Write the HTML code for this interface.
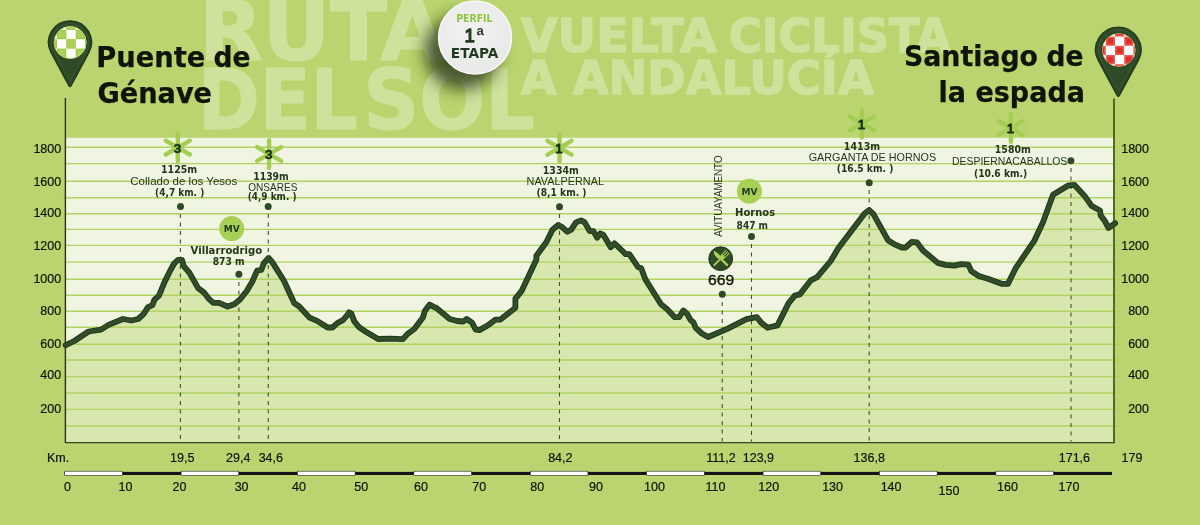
<!DOCTYPE html>
<html lang="es"><head><meta charset="utf-8"><title>Perfil 1ª Etapa - Vuelta Ciclista a Andalucía</title>
<style>
html,body{margin:0;padding:0;background:#bad56f;}
body{width:1200px;height:525px;overflow:hidden;font-family:"Liberation Sans",sans-serif;}
svg{display:block;}
svg text{font-family:"Liberation Sans",sans-serif;}
.b{font-weight:bold;}
svg text.djt{font-family:"DejaVu Sans","Liberation Sans",sans-serif;}
svg .dj text{font-family:"DejaVu Sans","Liberation Sans",sans-serif;}
.m{text-anchor:middle;}
.e{text-anchor:end;}
.ax{font-size:12.5px;fill:#10140a;stroke:#10140a;stroke-width:0.2px;}
.lb{fill:#24361c;}
</style></head><body>
<svg width="1200" height="525" viewBox="0 0 1200 525">
<defs>
<clipPath id="cL"><circle cx="70.2" cy="42.5" r="16"/></clipPath>
<clipPath id="cR"><circle cx="1118.8" cy="50" r="16.3"/></clipPath>
<filter id="sh" x="-60%" y="-40%" width="200%" height="200%"><feGaussianBlur stdDeviation="7.8"/></filter>
<radialGradient id="bg1" cx="0.45" cy="0.4" r="0.7"><stop offset="0" stop-color="#f1f1f1"/><stop offset="1" stop-color="#e6e8e6"/></radialGradient>
</defs>
<rect width="1200" height="525" fill="#bad56f"/>
<g fill="#cfe29c" stroke="#cfe29c" stroke-width="1.2" class="b dj">
<text x="199" y="60.2" font-size="83" textLength="245.5" lengthAdjust="spacingAndGlyphs">RUTA</text>
<text x="198" y="129.2" font-size="83" textLength="160" lengthAdjust="spacingAndGlyphs">DEL</text>
<text x="363.3" y="129.2" font-size="83" textLength="171.5" lengthAdjust="spacingAndGlyphs">SOL</text>
</g>
<g fill="#cfe29c" stroke="#cfe29c" stroke-width="1.3" class="b dj">
<text x="520.8" y="51.6" font-size="46" textLength="196" lengthAdjust="spacingAndGlyphs">VUELTA</text>
<text x="728.8" y="51.6" font-size="46" textLength="222" lengthAdjust="spacingAndGlyphs">CICLISTA</text>
<text x="520.8" y="94.2" font-size="46" textLength="353" lengthAdjust="spacingAndGlyphs">A ANDALUCÍA</text>
</g>
<rect x="65.4" y="137.8" width="1048.4" height="304.8" fill="#eff5e1"/>
<path d="M65.4,442.6 L65.7,345.2 L74.3,341.0 L88.6,331.5 L101.0,329.6 L108.6,324.9 L122.9,319.0 L131.4,320.5 L138.1,319.0 L143.8,313.8 L148.0,307.1 L152.4,305.2 L154.3,299.9 L159.0,295.7 L164.4,282.4 L170.5,270.0 L174.3,263.3 L178.1,259.9 L181.9,259.9 L183.8,266.2 L189.5,272.9 L194.3,281.4 L198.1,288.1 L203.8,292.3 L208.6,298.6 L213.3,302.8 L219.0,302.8 L227.6,306.6 L234.3,304.3 L240.0,299.5 L246.7,291.0 L252.4,281.4 L257.1,270.6 L261.3,270.0 L263.8,263.3 L268.6,258.0 L272.4,262.4 L283.8,280.5 L294.3,303.3 L299.0,306.2 L309.5,317.6 L317.1,320.9 L327.6,327.5 L332.4,327.5 L337.1,323.3 L342.9,320.1 L347.6,314.8 L349.0,312.3 L351.4,313.8 L354.3,321.4 L359.0,327.1 L366.7,332.3 L378.1,339.0 L390.5,338.6 L402.9,339.1 L407.6,333.8 L414.3,329.0 L422.9,317.6 L424.8,311.0 L429.5,304.7 L434.3,307.1 L436.1,307.8 L449.7,319.0 L457.2,321.0 L463.3,321.5 L466.6,319.0 L472.0,322.7 L475.7,329.6 L479.4,330.1 L488.1,325.2 L495.5,319.7 L500.5,319.5 L515.4,307.8 L515.4,298.7 L521.5,291.2 L536.4,259.5 L536.4,255.8 L546.3,242.2 L552.5,229.8 L558.2,224.9 L562.4,227.3 L567.4,231.8 L571.1,229.8 L576.0,222.4 L581.0,220.4 L584.7,222.4 L589.7,231.1 L593.4,231.1 L597.1,237.7 L600.3,233.5 L603.3,234.8 L610.7,247.2 L614.4,243.4 L618.1,246.7 L625.6,254.1 L629.3,254.1 L638.0,267.0 L641.2,268.2 L645.4,279.4 L651.6,289.3 L661.0,304.3 L667.2,309.3 L674.7,317.2 L679.1,317.2 L683.3,310.5 L687.0,313.7 L690.8,320.4 L693.3,322.1 L695.7,327.8 L701.9,333.5 L708.1,337.0 L726.7,329.1 L746.5,319.2 L756.9,317.2 L761.4,322.9 L767.6,327.8 L777.5,325.4 L788.6,303.1 L794.8,295.6 L799.8,294.4 L810.9,280.3 L817.1,277.1 L830.7,261.0 L838.1,248.6 L864.8,213.3 L869.2,210.1 L873.4,214.1 L888.3,240.6 L894.5,244.3 L901.9,247.5 L905.6,247.5 L911.8,241.8 L916.8,242.3 L923.0,250.5 L937.8,262.9 L945.3,264.9 L953.9,265.6 L961.4,264.1 L968.3,264.6 L971.3,271.1 L978.7,276.0 L988.6,279.0 L1002.2,283.9 L1007.9,283.9 L1015.9,267.8 L1034.4,240.6 L1043.1,222.0 L1053.0,194.8 L1068.6,185.3 L1074.3,184.8 L1084.8,196.2 L1091.4,205.7 L1100.0,210.5 L1100.6,215.2 L1104.8,221.0 L1108.6,228.0 L1115.2,223.2 L1113.8,442.6 Z" fill="#d7e7ad"/>
<path d="M65.4,147.20H1119.6M65.4,163.60H1119.6M65.4,181.20H1119.6M60.9,197.80H1119.6M65.4,213.80H1119.6M65.4,229.40H1119.6M65.4,245.40H1119.6M65.4,262.10H1119.6M65.4,279.30H1119.6M65.4,295.30H1119.6M65.4,311.30H1119.6M65.4,327.30H1119.6M65.4,344.30H1119.6M65.4,360.00H1119.6M65.4,376.60H1119.6M65.4,393.00H1119.6M65.4,409.40H1119.6M65.4,426.00H1119.6" stroke="#b0d361" stroke-width="1.4" fill="none"/>
<path d="M65.4,442.6H1114.6" stroke="#38431f" stroke-width="1.2"/>
<path d="M65.4,98V443.1" stroke="#2a3316" stroke-width="1.4"/>
<path d="M1114.0,98.5V443.2" stroke="#4f621b" stroke-width="1.9"/>
<path d="M180.4,214.0V441.6" stroke="#3f5135" stroke-width="1.1" stroke-dasharray="4 4.5" fill="none"/>
<path d="M238.9,282.0V441.6" stroke="#3f5135" stroke-width="1.1" stroke-dasharray="4 4.5" fill="none"/>
<path d="M268.3,214.0V441.6" stroke="#3f5135" stroke-width="1.1" stroke-dasharray="4 4.5" fill="none"/>
<path d="M559.5,214.0V441.6" stroke="#3f5135" stroke-width="1.1" stroke-dasharray="4 4.5" fill="none"/>
<path d="M722.2,302.0V441.6" stroke="#3f5135" stroke-width="1.1" stroke-dasharray="4 4.5" fill="none"/>
<path d="M751.5,244.0V441.6" stroke="#3f5135" stroke-width="1.1" stroke-dasharray="4 4.5" fill="none"/>
<path d="M869.2,190.0V441.6" stroke="#3f5135" stroke-width="1.1" stroke-dasharray="4 4.5" fill="none"/>
<path d="M1071.0,168.0V441.6" stroke="#3f5135" stroke-width="1.1" stroke-dasharray="4 4.5" fill="none"/>
<path id="prof" d="M65.7,345.2 L74.3,341.0 L88.6,331.5 L101.0,329.6 L108.6,324.9 L122.9,319.0 L131.4,320.5 L138.1,319.0 L143.8,313.8 L148.0,307.1 L152.4,305.2 L154.3,299.9 L159.0,295.7 L164.4,282.4 L170.5,270.0 L174.3,263.3 L178.1,259.9 L181.9,259.9 L183.8,266.2 L189.5,272.9 L194.3,281.4 L198.1,288.1 L203.8,292.3 L208.6,298.6 L213.3,302.8 L219.0,302.8 L227.6,306.6 L234.3,304.3 L240.0,299.5 L246.7,291.0 L252.4,281.4 L257.1,270.6 L261.3,270.0 L263.8,263.3 L268.6,258.0 L272.4,262.4 L283.8,280.5 L294.3,303.3 L299.0,306.2 L309.5,317.6 L317.1,320.9 L327.6,327.5 L332.4,327.5 L337.1,323.3 L342.9,320.1 L347.6,314.8 L349.0,312.3 L351.4,313.8 L354.3,321.4 L359.0,327.1 L366.7,332.3 L378.1,339.0 L390.5,338.6 L402.9,339.1 L407.6,333.8 L414.3,329.0 L422.9,317.6 L424.8,311.0 L429.5,304.7 L434.3,307.1 L436.1,307.8 L449.7,319.0 L457.2,321.0 L463.3,321.5 L466.6,319.0 L472.0,322.7 L475.7,329.6 L479.4,330.1 L488.1,325.2 L495.5,319.7 L500.5,319.5 L515.4,307.8 L515.4,298.7 L521.5,291.2 L536.4,259.5 L536.4,255.8 L546.3,242.2 L552.5,229.8 L558.2,224.9 L562.4,227.3 L567.4,231.8 L571.1,229.8 L576.0,222.4 L581.0,220.4 L584.7,222.4 L589.7,231.1 L593.4,231.1 L597.1,237.7 L600.3,233.5 L603.3,234.8 L610.7,247.2 L614.4,243.4 L618.1,246.7 L625.6,254.1 L629.3,254.1 L638.0,267.0 L641.2,268.2 L645.4,279.4 L651.6,289.3 L661.0,304.3 L667.2,309.3 L674.7,317.2 L679.1,317.2 L683.3,310.5 L687.0,313.7 L690.8,320.4 L693.3,322.1 L695.7,327.8 L701.9,333.5 L708.1,337.0 L726.7,329.1 L746.5,319.2 L756.9,317.2 L761.4,322.9 L767.6,327.8 L777.5,325.4 L788.6,303.1 L794.8,295.6 L799.8,294.4 L810.9,280.3 L817.1,277.1 L830.7,261.0 L838.1,248.6 L864.8,213.3 L869.2,210.1 L873.4,214.1 L888.3,240.6 L894.5,244.3 L901.9,247.5 L905.6,247.5 L911.8,241.8 L916.8,242.3 L923.0,250.5 L937.8,262.9 L945.3,264.9 L953.9,265.6 L961.4,264.1 L968.3,264.6 L971.3,271.1 L978.7,276.0 L988.6,279.0 L1002.2,283.9 L1007.9,283.9 L1015.9,267.8 L1034.4,240.6 L1043.1,222.0 L1053.0,194.8 L1068.6,185.3 L1074.3,184.8 L1084.8,196.2 L1091.4,205.7 L1100.0,210.5 L1100.6,215.2 L1104.8,221.0 L1108.6,228.0 L1115.2,223.2" fill="none" stroke="#213a1c" stroke-width="5.8" stroke-linejoin="round" stroke-linecap="round"/>
<path d="M65.7,345.2 L74.3,341.0 L88.6,331.5 L101.0,329.6 L108.6,324.9 L122.9,319.0 L131.4,320.5 L138.1,319.0 L143.8,313.8 L148.0,307.1 L152.4,305.2 L154.3,299.9 L159.0,295.7 L164.4,282.4 L170.5,270.0 L174.3,263.3 L178.1,259.9 L181.9,259.9 L183.8,266.2 L189.5,272.9 L194.3,281.4 L198.1,288.1 L203.8,292.3 L208.6,298.6 L213.3,302.8 L219.0,302.8 L227.6,306.6 L234.3,304.3 L240.0,299.5 L246.7,291.0 L252.4,281.4 L257.1,270.6 L261.3,270.0 L263.8,263.3 L268.6,258.0 L272.4,262.4 L283.8,280.5 L294.3,303.3 L299.0,306.2 L309.5,317.6 L317.1,320.9 L327.6,327.5 L332.4,327.5 L337.1,323.3 L342.9,320.1 L347.6,314.8 L349.0,312.3 L351.4,313.8 L354.3,321.4 L359.0,327.1 L366.7,332.3 L378.1,339.0 L390.5,338.6 L402.9,339.1 L407.6,333.8 L414.3,329.0 L422.9,317.6 L424.8,311.0 L429.5,304.7 L434.3,307.1 L436.1,307.8 L449.7,319.0 L457.2,321.0 L463.3,321.5 L466.6,319.0 L472.0,322.7 L475.7,329.6 L479.4,330.1 L488.1,325.2 L495.5,319.7 L500.5,319.5 L515.4,307.8 L515.4,298.7 L521.5,291.2 L536.4,259.5 L536.4,255.8 L546.3,242.2 L552.5,229.8 L558.2,224.9 L562.4,227.3 L567.4,231.8 L571.1,229.8 L576.0,222.4 L581.0,220.4 L584.7,222.4 L589.7,231.1 L593.4,231.1 L597.1,237.7 L600.3,233.5 L603.3,234.8 L610.7,247.2 L614.4,243.4 L618.1,246.7 L625.6,254.1 L629.3,254.1 L638.0,267.0 L641.2,268.2 L645.4,279.4 L651.6,289.3 L661.0,304.3 L667.2,309.3 L674.7,317.2 L679.1,317.2 L683.3,310.5 L687.0,313.7 L690.8,320.4 L693.3,322.1 L695.7,327.8 L701.9,333.5 L708.1,337.0 L726.7,329.1 L746.5,319.2 L756.9,317.2 L761.4,322.9 L767.6,327.8 L777.5,325.4 L788.6,303.1 L794.8,295.6 L799.8,294.4 L810.9,280.3 L817.1,277.1 L830.7,261.0 L838.1,248.6 L864.8,213.3 L869.2,210.1 L873.4,214.1 L888.3,240.6 L894.5,244.3 L901.9,247.5 L905.6,247.5 L911.8,241.8 L916.8,242.3 L923.0,250.5 L937.8,262.9 L945.3,264.9 L953.9,265.6 L961.4,264.1 L968.3,264.6 L971.3,271.1 L978.7,276.0 L988.6,279.0 L1002.2,283.9 L1007.9,283.9 L1015.9,267.8 L1034.4,240.6 L1043.1,222.0 L1053.0,194.8 L1068.6,185.3 L1074.3,184.8 L1084.8,196.2 L1091.4,205.7 L1100.0,210.5 L1100.6,215.2 L1104.8,221.0 L1108.6,228.0 L1115.2,223.2" fill="none" stroke="#314d2a" stroke-width="3.6" stroke-linejoin="round" stroke-linecap="round"/>
<circle cx="180.5" cy="206.6" r="3.5" fill="#2f4a27"/>
<circle cx="268.2" cy="206.6" r="3.5" fill="#2f4a27"/>
<circle cx="238.9" cy="274.3" r="3.5" fill="#2f4a27"/>
<circle cx="559.5" cy="206.7" r="3.5" fill="#2f4a27"/>
<circle cx="722.3" cy="294.2" r="3.5" fill="#2f4a27"/>
<circle cx="751.5" cy="236.4" r="3.5" fill="#2f4a27"/>
<circle cx="869.2" cy="182.7" r="3.5" fill="#2f4a27"/>
<circle cx="1070.9" cy="160.8" r="3.5" fill="#2f4a27"/>
<path d="M177.8,133.8V161.4 M165.8,140.7L189.8,154.5 M165.8,154.5L189.8,140.7" stroke="#a4ce53" stroke-width="4.4" stroke-linecap="round" fill="none"/>
<text x="177.6" y="152.5" class="b m" font-size="13.6" fill="#17301b" stroke="#17301b" stroke-width="0.45">3</text>
<path d="M269.1,140.2V167.8 M257.1,147.1L281.1,160.9 M257.1,160.9L281.1,147.1" stroke="#a4ce53" stroke-width="4.4" stroke-linecap="round" fill="none"/>
<text x="268.9" y="158.9" class="b m" font-size="13.6" fill="#17301b" stroke="#17301b" stroke-width="0.45">3</text>
<path d="M559.5,133.9V161.5 M547.5,140.8L571.5,154.6 M547.5,154.6L571.5,140.8" stroke="#a4ce53" stroke-width="4.4" stroke-linecap="round" fill="none"/>
<text x="559.0" y="153.1" class="m" font-size="13.4" fill="#17301b" stroke="#17301b" stroke-width="1.05" stroke-linejoin="round">1</text>
<path d="M861.9,109.7V137.3 M849.9,116.6L873.9,130.4 M849.9,130.4L873.9,116.6" stroke="#a4ce53" stroke-width="4.4" stroke-linecap="round" fill="none"/>
<text x="861.4" y="128.9" class="m" font-size="13.4" fill="#17301b" stroke="#17301b" stroke-width="1.05" stroke-linejoin="round">1</text>
<path d="M1010.9,114.2V141.8 M998.9,121.1L1022.9,134.9 M998.9,134.9L1022.9,121.1" stroke="#a4ce53" stroke-width="4.4" stroke-linecap="round" fill="none"/>
<text x="1010.4" y="133.4" class="m" font-size="13.4" fill="#17301b" stroke="#17301b" stroke-width="1.05" stroke-linejoin="round">1</text>
<text x="179.1" y="172.8" class="lb b djt m" font-size="9.9" textLength="36.3" lengthAdjust="spacingAndGlyphs">1125m</text>
<text x="183.8" y="184.5" class="lb m" font-size="11" textLength="107.0" lengthAdjust="spacingAndGlyphs">Collado de los Yesos</text>
<text x="179.7" y="196.0" class="lb b djt m" font-size="9.9" textLength="49.2" lengthAdjust="spacingAndGlyphs">(4,7 km. )</text>
<text x="271.0" y="179.7" class="lb b djt m" font-size="9.9" textLength="35.5" lengthAdjust="spacingAndGlyphs">1139m</text>
<text x="272.8" y="191.4" class="lb m" font-size="11" textLength="49.2" lengthAdjust="spacingAndGlyphs">ONSARES</text>
<text x="272.1" y="199.9" class="lb b djt m" font-size="9.9" textLength="48.8" lengthAdjust="spacingAndGlyphs">(4,9 km. )</text>
<text x="226.4" y="253.7" class="lb b djt m" font-size="10.4" textLength="71.6" lengthAdjust="spacingAndGlyphs">Villarrodrigo</text>
<text x="228.6" y="264.7" class="lb b djt m" font-size="9.9" textLength="31.9" lengthAdjust="spacingAndGlyphs">873 m</text>
<text x="560.8" y="173.5" class="lb b djt m" font-size="9.9" textLength="36.0" lengthAdjust="spacingAndGlyphs">1334m</text>
<text x="565.3" y="185.0" class="lb m" font-size="11" textLength="77.4" lengthAdjust="spacingAndGlyphs">NAVALPERNAL</text>
<text x="561.5" y="195.6" class="lb b djt m" font-size="9.9" textLength="50.0" lengthAdjust="spacingAndGlyphs">(8,1 km. )</text>
<circle cx="231.7" cy="228.6" r="12.5" fill="#a8cf56"/>
<text x="231.7" y="231.9" class="b m djt" font-size="9" fill="#1f3a1e" textLength="16" lengthAdjust="spacingAndGlyphs">MV</text>
<circle cx="749.4" cy="191.2" r="12.5" fill="#a8cf56"/>
<text x="749.4" y="194.5" class="b m djt" font-size="9" fill="#1f3a1e" textLength="16" lengthAdjust="spacingAndGlyphs">MV</text>
<text x="755.1" y="216.4" class="lb b djt m" font-size="10.4" textLength="40.0" lengthAdjust="spacingAndGlyphs">Hornos</text>
<text x="752.3" y="228.7" class="lb b djt m" font-size="9.9" textLength="31.4" lengthAdjust="spacingAndGlyphs">847 m</text>
<text transform="translate(722,236.7) rotate(-90)" class="lb" font-size="10" textLength="81.2" lengthAdjust="spacingAndGlyphs">AVITUAYAMENTO</text>
<circle cx="720.7" cy="258.7" r="11.9" fill="#2f4a27" stroke="#22381b" stroke-width="1"/>
<g fill="#a8cf56" transform="translate(720.7,258.7) scale(1.2)">
<g transform="rotate(-45)"><path d="M-0.9,8.2V0C-2.3,-3 -1.9,-7 0.8,-8.7C1.8,-6 1.9,-2 1.0,0.6V8.2Z"/></g>
<g transform="rotate(45)"><path d="M-0.8,8.2V-0.6C-1.9,-1.2 -2.2,-2 -2.2,-3V-8.4H-1.4V-3.4H-0.45V-8.4H0.45V-3.4H1.4V-8.4H2.2V-3C2.2,-2 1.9,-1.2 0.8,-0.6V8.2Z"/></g>
</g>
<text x="721.2" y="285" class="m" font-size="14.9" fill="#10140a" stroke="#10140a" stroke-width="0.3" textLength="26.3" lengthAdjust="spacingAndGlyphs">669</text>
<text x="862.0" y="149.9" class="lb b djt m" font-size="9.9" textLength="36.3" lengthAdjust="spacingAndGlyphs">1413m</text>
<text x="872.4" y="160.8" class="lb m" font-size="11" textLength="127.4" lengthAdjust="spacingAndGlyphs">GARGANTA DE HORNOS</text>
<text x="865.1" y="172.0" class="lb b djt m" font-size="9.9" textLength="56.8" lengthAdjust="spacingAndGlyphs">(16.5 km. )</text>
<text x="1012.8" y="153.3" class="lb b djt m" font-size="9.9" textLength="36.0" lengthAdjust="spacingAndGlyphs">1580m</text>
<text x="1009.7" y="164.8" class="lb m" font-size="11" textLength="115.2" lengthAdjust="spacingAndGlyphs">DESPIERNACABALLOS</text>
<text x="1000.6" y="176.5" class="lb b djt m" font-size="9.9" textLength="53.3" lengthAdjust="spacingAndGlyphs">(10.6 km.)</text>
<text x="61.2" y="153.0" class="ax e">1800</text>
<text x="1149" y="153.0" class="ax e">1800</text>
<text x="61.2" y="186.2" class="ax e">1600</text>
<text x="1149" y="186.2" class="ax e">1600</text>
<text x="61.2" y="216.9" class="ax e">1400</text>
<text x="1149" y="216.9" class="ax e">1400</text>
<text x="61.2" y="249.5" class="ax e">1200</text>
<text x="1149" y="249.5" class="ax e">1200</text>
<text x="61.2" y="283.4" class="ax e">1000</text>
<text x="1149" y="283.4" class="ax e">1000</text>
<text x="61.2" y="315.3" class="ax e">800</text>
<text x="1149" y="315.3" class="ax e">800</text>
<text x="61.2" y="348.2" class="ax e">600</text>
<text x="1149" y="348.2" class="ax e">600</text>
<text x="61.2" y="379.3" class="ax e">400</text>
<text x="1149" y="379.3" class="ax e">400</text>
<text x="61.2" y="412.5" class="ax e">200</text>
<text x="1149" y="412.5" class="ax e">200</text>
<text x="47" y="461.6" class="ax">Km.</text>
<text x="182.2" y="461.6" class="ax m">19,5</text>
<text x="238.2" y="461.6" class="ax m">29,4</text>
<text x="270.8" y="461.6" class="ax m">34,6</text>
<text x="560.3" y="461.6" class="ax m">84,2</text>
<text x="720.9" y="461.6" class="ax m">111,2</text>
<text x="758.4" y="461.6" class="ax m">123,9</text>
<text x="869.2" y="461.6" class="ax m">136,8</text>
<text x="1074.4" y="461.6" class="ax m">171,6</text>
<text x="1121.5" y="461.6" class="ax">179</text>
<rect x="64.4" y="471.9" width="1047.6" height="3.1" fill="#141414"/>
<rect x="64.7" y="471.2" width="57.6" height="4.2" fill="#ffffff" stroke="#2a2a2a" stroke-width="0.6"/>
<rect x="181.1" y="471.2" width="57.6" height="4.2" fill="#ffffff" stroke="#2a2a2a" stroke-width="0.6"/>
<rect x="297.5" y="471.2" width="57.6" height="4.2" fill="#ffffff" stroke="#2a2a2a" stroke-width="0.6"/>
<rect x="413.9" y="471.2" width="57.6" height="4.2" fill="#ffffff" stroke="#2a2a2a" stroke-width="0.6"/>
<rect x="530.3" y="471.2" width="57.6" height="4.2" fill="#ffffff" stroke="#2a2a2a" stroke-width="0.6"/>
<rect x="646.7" y="471.2" width="57.6" height="4.2" fill="#ffffff" stroke="#2a2a2a" stroke-width="0.6"/>
<rect x="763.1" y="471.2" width="57.6" height="4.2" fill="#ffffff" stroke="#2a2a2a" stroke-width="0.6"/>
<rect x="879.5" y="471.2" width="57.6" height="4.2" fill="#ffffff" stroke="#2a2a2a" stroke-width="0.6"/>
<rect x="995.9" y="471.2" width="57.6" height="4.2" fill="#ffffff" stroke="#2a2a2a" stroke-width="0.6"/>
<text x="67.5" y="490.6" class="ax m">0</text>
<text x="125.4" y="490.6" class="ax m">10</text>
<text x="179.4" y="490.6" class="ax m">20</text>
<text x="241.6" y="490.6" class="ax m">30</text>
<text x="299.0" y="490.6" class="ax m">40</text>
<text x="361.2" y="490.6" class="ax m">50</text>
<text x="421.0" y="490.6" class="ax m">60</text>
<text x="479.3" y="490.6" class="ax m">70</text>
<text x="537.2" y="490.6" class="ax m">80</text>
<text x="596.0" y="490.6" class="ax m">90</text>
<text x="654.5" y="490.6" class="ax m">100</text>
<text x="715.5" y="490.6" class="ax m">110</text>
<text x="768.7" y="490.6" class="ax m">120</text>
<text x="832.6" y="490.6" class="ax m">130</text>
<text x="891.1" y="490.6" class="ax m">140</text>
<text x="949.0" y="495.0" class="ax m">150</text>
<text x="1007.5" y="490.6" class="ax m">160</text>
<text x="1069.0" y="490.6" class="ax m">170</text>
<path d="M51.08,52.81 A21.60,21.60 0 1 1 88.92,52.81 L71.20,85.58 Q70.00,87.60 68.80,85.58 Z" fill="#2c4725" stroke="#20361a" stroke-width="1.2"/>
<path d="M53.64,51.46 A18.70,18.70 0 1 1 86.36,51.46 L70.80,79.92 Q70.00,81.40 69.20,79.92 Z" fill="#2f4a27" stroke="#42613a" stroke-width="0.7"/>
<path d="M1098.34,60.81 A22.80,22.80 0 1 1 1138.26,60.81 L1119.50,95.38 Q1118.30,97.40 1117.10,95.38 Z" fill="#2c4725" stroke="#20361a" stroke-width="1.2"/>
<path d="M1100.90,59.46 A19.90,19.90 0 1 1 1135.70,59.46 L1119.10,89.72 Q1118.30,91.20 1117.50,89.72 Z" fill="#2f4a27" stroke="#42613a" stroke-width="0.7"/>
<circle cx="70.2" cy="42.5" r="16.0" fill="#ffffff" stroke="#cfe6a0" stroke-width="1"/>
<g clip-path="url(#cL)">
<rect x="47.50" y="20.40" width="9.40" height="9.40" fill="#9ac52e"/>
<rect x="48.40" y="21.30" width="7.60" height="7.60" fill="#acd060"/>
<rect x="47.50" y="39.20" width="9.40" height="9.40" fill="#9ac52e"/>
<rect x="48.40" y="40.10" width="7.60" height="7.60" fill="#acd060"/>
<rect x="47.50" y="58.00" width="9.40" height="9.40" fill="#9ac52e"/>
<rect x="48.40" y="58.90" width="7.60" height="7.60" fill="#acd060"/>
<rect x="56.90" y="29.80" width="9.40" height="9.40" fill="#9ac52e"/>
<rect x="57.80" y="30.70" width="7.60" height="7.60" fill="#acd060"/>
<rect x="56.90" y="48.60" width="9.40" height="9.40" fill="#9ac52e"/>
<rect x="57.80" y="49.50" width="7.60" height="7.60" fill="#acd060"/>
<rect x="66.30" y="20.40" width="9.40" height="9.40" fill="#9ac52e"/>
<rect x="67.20" y="21.30" width="7.60" height="7.60" fill="#acd060"/>
<rect x="66.30" y="39.20" width="9.40" height="9.40" fill="#9ac52e"/>
<rect x="67.20" y="40.10" width="7.60" height="7.60" fill="#acd060"/>
<rect x="66.30" y="58.00" width="9.40" height="9.40" fill="#9ac52e"/>
<rect x="67.20" y="58.90" width="7.60" height="7.60" fill="#acd060"/>
<rect x="75.70" y="29.80" width="9.40" height="9.40" fill="#9ac52e"/>
<rect x="76.60" y="30.70" width="7.60" height="7.60" fill="#acd060"/>
<rect x="75.70" y="48.60" width="9.40" height="9.40" fill="#9ac52e"/>
<rect x="76.60" y="49.50" width="7.60" height="7.60" fill="#acd060"/>
<rect x="85.10" y="20.40" width="9.40" height="9.40" fill="#9ac52e"/>
<rect x="86.00" y="21.30" width="7.60" height="7.60" fill="#acd060"/>
<rect x="85.10" y="39.20" width="9.40" height="9.40" fill="#9ac52e"/>
<rect x="86.00" y="40.10" width="7.60" height="7.60" fill="#acd060"/>
<rect x="85.10" y="58.00" width="9.40" height="9.40" fill="#9ac52e"/>
<rect x="86.00" y="58.90" width="7.60" height="7.60" fill="#acd060"/>
</g>
<circle cx="1118.8" cy="50.0" r="16.3" fill="#ffffff" stroke="#cfe6a0" stroke-width="1"/>
<g clip-path="url(#cR)">
<rect x="1096.60" y="27.40" width="9.20" height="9.20" fill="#ee5a55"/>
<rect x="1098.20" y="29.00" width="6.00" height="6.00" fill="#dd2f2c"/>
<rect x="1096.60" y="45.80" width="9.20" height="9.20" fill="#ee5a55"/>
<rect x="1098.20" y="47.40" width="6.00" height="6.00" fill="#dd2f2c"/>
<rect x="1096.60" y="64.20" width="9.20" height="9.20" fill="#ee5a55"/>
<rect x="1098.20" y="65.80" width="6.00" height="6.00" fill="#dd2f2c"/>
<rect x="1105.80" y="36.60" width="9.20" height="9.20" fill="#ee5a55"/>
<rect x="1107.40" y="38.20" width="6.00" height="6.00" fill="#dd2f2c"/>
<rect x="1105.80" y="55.00" width="9.20" height="9.20" fill="#ee5a55"/>
<rect x="1107.40" y="56.60" width="6.00" height="6.00" fill="#dd2f2c"/>
<rect x="1115.00" y="27.40" width="9.20" height="9.20" fill="#ee5a55"/>
<rect x="1116.60" y="29.00" width="6.00" height="6.00" fill="#dd2f2c"/>
<rect x="1115.00" y="45.80" width="9.20" height="9.20" fill="#ee5a55"/>
<rect x="1116.60" y="47.40" width="6.00" height="6.00" fill="#dd2f2c"/>
<rect x="1115.00" y="64.20" width="9.20" height="9.20" fill="#ee5a55"/>
<rect x="1116.60" y="65.80" width="6.00" height="6.00" fill="#dd2f2c"/>
<rect x="1124.20" y="36.60" width="9.20" height="9.20" fill="#ee5a55"/>
<rect x="1125.80" y="38.20" width="6.00" height="6.00" fill="#dd2f2c"/>
<rect x="1124.20" y="55.00" width="9.20" height="9.20" fill="#ee5a55"/>
<rect x="1125.80" y="56.60" width="6.00" height="6.00" fill="#dd2f2c"/>
<rect x="1133.40" y="27.40" width="9.20" height="9.20" fill="#ee5a55"/>
<rect x="1135.00" y="29.00" width="6.00" height="6.00" fill="#dd2f2c"/>
<rect x="1133.40" y="45.80" width="9.20" height="9.20" fill="#ee5a55"/>
<rect x="1135.00" y="47.40" width="6.00" height="6.00" fill="#dd2f2c"/>
<rect x="1133.40" y="64.20" width="9.20" height="9.20" fill="#ee5a55"/>
<rect x="1135.00" y="65.80" width="6.00" height="6.00" fill="#dd2f2c"/>
</g>
<g fill="#10140a" stroke="#10140a" stroke-width="0.25" class="b dj">
<text x="96.3" y="67.1" font-size="27.8" textLength="109" lengthAdjust="spacingAndGlyphs">Puente</text>
<text x="213.4" y="67.1" font-size="27.8" textLength="37" lengthAdjust="spacingAndGlyphs">de</text>
<text x="97.5" y="102.6" font-size="27.8" textLength="114.5" lengthAdjust="spacingAndGlyphs">Génave</text>
<text x="904" y="66.4" font-size="27.8" textLength="134" lengthAdjust="spacingAndGlyphs">Santiago</text>
<text x="1046.4" y="66.4" font-size="27.8" textLength="37" lengthAdjust="spacingAndGlyphs">de</text>
<text x="938.5" y="102" font-size="27.8" textLength="146.5" lengthAdjust="spacingAndGlyphs">la espada</text>
</g>
<circle cx="462" cy="52" r="37.5" fill="#1a2a0c" opacity="0.74" filter="url(#sh)"/>
<circle cx="475" cy="37.5" r="36.5" fill="url(#bg1)" stroke="#f9f9f9" stroke-width="1.4"/>
<g class="b dj">
<text x="456.2" y="22.3" font-size="10.2" fill="#8cc63e" textLength="36.4" lengthAdjust="spacingAndGlyphs">PERFIL</text>
<text x="464.4" y="42.3" font-size="18.6" fill="#1f3a1e" stroke="#1f3a1e" stroke-width="1.3" stroke-linejoin="round" style="font-family:'Liberation Sans',sans-serif;font-weight:normal">1</text>
<text x="476.6" y="42.8" font-size="20" fill="#1f3a1e" style="font-family:'Liberation Sans',sans-serif">ª</text>
<text x="450.8" y="57.6" font-size="13.4" fill="#1f3a1e" textLength="47.6" lengthAdjust="spacingAndGlyphs">ETAPA</text>
</g>
</svg>
</body></html>
